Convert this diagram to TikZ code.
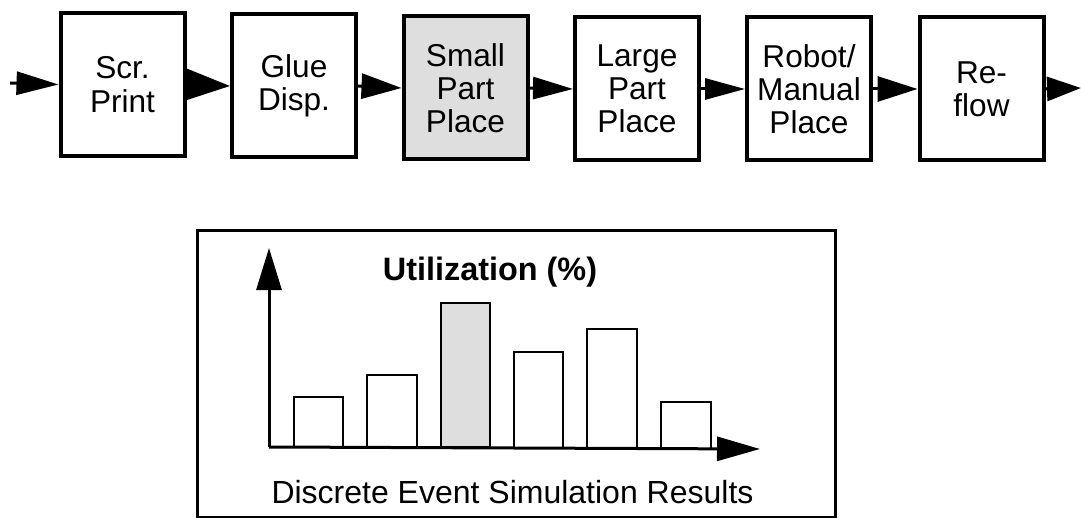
\documentclass[tikz,border=0pt]{standalone}
\usepackage{fontspec}
\setmainfont{Liberation Sans}
\usetikzlibrary{arrows.meta}
\tikzset{
  stagebox/.style={draw=black, line width=2pt, fill=white, align=center,
    minimum width=62pt, minimum height=71.5pt, inner sep=0pt,
    font=\fontsize{15.8}{16.6}\selectfont},
  shaded/.style={fill=black!13},
  conn/.style={line width=1.5pt, -{Triangle[length=20pt,width=12.5pt]}},
  axis/.style={line width=1.5pt, -{Triangle[length=21pt,width=12.5pt]}},
  bar/.style={draw=black, line width=1pt, fill=white},
  frame/.style={draw=black, line width=1.5pt},
  charttext/.style={font=\fontsize{16}{17}\selectfont, inner sep=0pt}
}
\begin{document}
\begin{tikzpicture}[x=0.5pt,y=-0.5pt]
\useasboundingbox (0,0) rectangle (1081,518);
% process stages
\node[stagebox] (b1) at (122.5,84.5) {Scr.\\Print};
\node[stagebox] (b2) at (294,86) {Glue\\Disp.};
\node[stagebox,shaded] (b3) at (465.5,88) {Small\\Part\\Place};
\node[stagebox] (b4) at (637,89) {Large\\Part\\Place};
\node[stagebox] (b5) at (809,89) {Robot/\\Manual\\Place};
\node[stagebox] (b6) at (981.5,89) {Re-\\flow};
\coordinate (in) at (10,83);
\coordinate (out) at (1081,88);
% connectors
\draw[conn,-{Triangle[length=21pt,width=11.5pt]}] (in) -- (b1.west);
\draw[conn,-{Triangle[length=22.5pt,width=16pt]}] (b1.east) -- (b2.west);
\draw[conn] (b2.east) -- (b3.west);
\draw[conn,-{Triangle[length=20pt,width=11pt]}] (b3.east) -- (b4.west);
\draw[conn,-{Triangle[length=20pt,width=10.5pt]}] (b4.east) -- (b5.west);
\draw[conn] (b5.east) -- (b6.west);
\draw[conn,-{Triangle[length=17pt,width=12pt]}] (b6.east) -- (out);
% results frame
\draw[frame] (197,231) rectangle (835,517);
% axes
\coordinate (o) at (269,447);
\coordinate (ytip) at (269,248);
\coordinate (xtip) at (760,449);
% bars
\draw[bar] (294,397) rectangle (343,447);
\draw[bar] (367,375) rectangle (417,447);
\draw[bar,shaded] (441,303) rectangle (490,447);
\draw[bar] (514,352) rectangle (563,448);
\draw[bar] (587,329) rectangle (637,448);
\draw[bar] (661,402) rectangle (711,449);
\draw[axis] (o) -- (ytip);
\draw[axis,-{Triangle[length=21.5pt,width=12pt]}] (o) -- (xtip);
% texts
\node[charttext,font=\fontsize{16.2}{17}\selectfont\bfseries,anchor=base] (title) at (490,280) {Utilization (\%)};
\node[charttext,anchor=base] (caption) at (512.5,503) {Discrete Event Simulation Results};
\end{tikzpicture}
\end{document}
